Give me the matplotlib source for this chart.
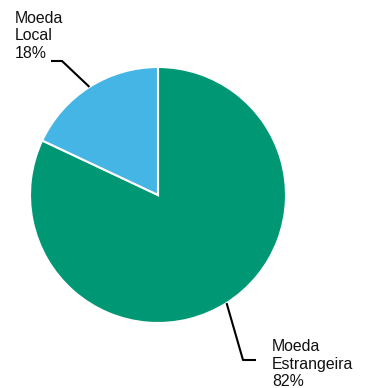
import numpy as np
import matplotlib
matplotlib.use("Agg")
import matplotlib.pyplot as plt

plt.rcParams['font.family'] = ['Liberation Sans', 'DejaVu Sans']

# currency split
categories = ['Moeda Estrangeira', 'Moeda Local']
shares = [82, 18]
colors = ['#009874', '#45B5E6']
label_texts = ['Moeda\nEstrangeira\n82%', 'Moeda\nLocal\n18%']

W, H = 367, 388
cx, cy, R = 158, 195, 128  # pie centre and radius in pixels

fig = plt.figure(figsize=(W / 100, H / 100), dpi=100)
ax = fig.add_axes([0, 0, 1, 1])

wedges, _ = ax.pie(shares, colors=colors, startangle=90, counterclock=False,
                   radius=1, wedgeprops=dict(edgecolor='white', linewidth=1.5))

# data units = pie radius, origin at the pie centre
ax.set_aspect('auto')
ax.set_xlim(-cx / R, (W - cx) / R)
ax.set_ylim(-(H - cy) / R, cy / R)
ax.axis('off')


def px(x, y):
    return (x - cx) / R, (cy - y) / R


# label block positions (left edge, vertical centre) and leader elbows
label_pos = [px(272, 364), px(15, 36)]
elbows = [[px(243, 360), px(256, 360)], [px(62, 61), px(51, 61)]]

for w, txt, pos, elb in zip(wedges, label_texts, label_pos, elbows):
    mid = np.deg2rad((w.theta1 + w.theta2) / 2)
    start = (np.cos(mid) * 1.0, np.sin(mid) * 1.0)
    xs = [start[0]] + [p[0] for p in elb]
    ys = [start[1]] + [p[1] for p in elb]
    ax.plot(xs, ys, color='black', lw=1.5, solid_capstyle='butt')
    ax.text(pos[0], pos[1], txt, ha='left', va='center', fontsize=11.4,
            linespacing=1.2, color='#111111')

fig.savefig('out.png', dpi=100)
